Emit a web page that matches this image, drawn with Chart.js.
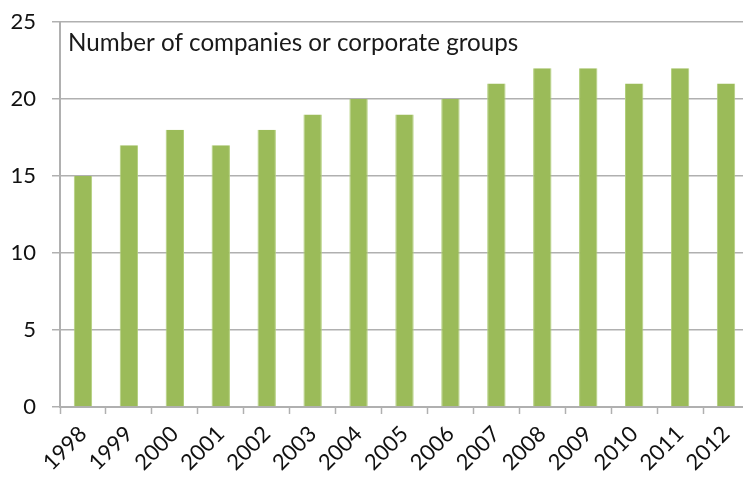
<!DOCTYPE html>
<html>
<head>
<meta charset="utf-8">
<script src="https://cdn.jsdelivr.net/npm/chart.js@4/dist/chart.umd.min.js"></script>
<style>
  html, body { margin: 0; padding: 0; background: #fff; overflow: hidden; }
  #wrap { width: 750px; height: 479px; }
</style>
</head>
<body>
<div id="wrap"><canvas id="companiesChart"></canvas></div>
<script>
const years = ['1998', '1999', '2000', '2001', '2002', '2003', '2004', '2005', '2006', '2007', '2008', '2009', '2010', '2011', '2012'];
const companies = [15, 17, 18, 17, 18, 19, 20, 19, 20, 21, 22, 22, 21, 22, 21];
const yTicks = [0, 5, 10, 15, 20, 25];
const chartTitle = 'Number of companies or corporate groups';

const gridGray = '#b0b0b0';
const fontFamily = 'Lato, "Open Sans", sans-serif';

// draws the caption inside the plot area, top-left
const insideTitle = {
    id: 'insideTitle',
    afterDraw(chart) {
        let ctx = chart.ctx;
        let area = chart.chartArea;
        ctx.save();
        ctx.fillStyle = '#1a1a1a';
        ctx.font = '24.2px ' + fontFamily;
        ctx.textBaseline = 'middle';
        ctx.fillText(chartTitle, area.left + 8, area.top + 21);
        ctx.restore();
    }
};

new Chart(document.getElementById('companiesChart'), {
    type: 'bar',
    data: {
        labels: years,
        datasets: [{
            data: companies,
            backgroundColor: '#9bbb59',
            borderColor: '#b2cf7c',
            borderWidth: { left: 1, right: 1, top: 0, bottom: 0 },
            borderSkipped: false,
            barPercentage: 0.4,
            categoryPercentage: 1
        }]
    },
    options: {
        responsive: true,
        maintainAspectRatio: false,
        animation: false,
        layout: { padding: { top: 22, right: 1, left: 0, bottom: 0 } },
        plugins: {
            legend: { display: false },
            tooltip: { enabled: false }
        },
        scales: {
            x: {
                offset: true,
                grid: {
                    offset: true,
                    drawOnChartArea: false,
                    drawTicks: true,
                    tickLength: 7,
                    tickColor: gridGray,
                    tickWidth: 1.5
                },
                border: { display: true, color: gridGray, width: 2 },
                ticks: {
                    color: '#111',
                    font: { family: fontFamily, size: 22 },
                    minRotation: 45,
                    maxRotation: 45,
                    padding: 7
                },
                afterFit(scale) {
                    scale.height = 72;
                    scale.paddingRight = 0;
                }
            },
            y: {
                min: 0,
                max: 25,
                afterBuildTicks(scale) { scale.ticks = yTicks.map(v => ({ value: v })); },
                grid: {
                    color: gridGray,
                    lineWidth: 1.5,
                    tickLength: 8,
                    tickColor: gridGray
                },
                border: { display: true, color: gridGray, width: 2 },
                ticks: {
                    color: '#111',
                    font: { family: fontFamily, size: 22 },
                    padding: 16
                },
                afterFit(scale) {
                    scale.width = 60;
                    scale.paddingTop = 0;
                    scale.paddingBottom = 0;
                }
            }
        }
    },
    plugins: [insideTitle]
});
</script>
</body>
</html>
